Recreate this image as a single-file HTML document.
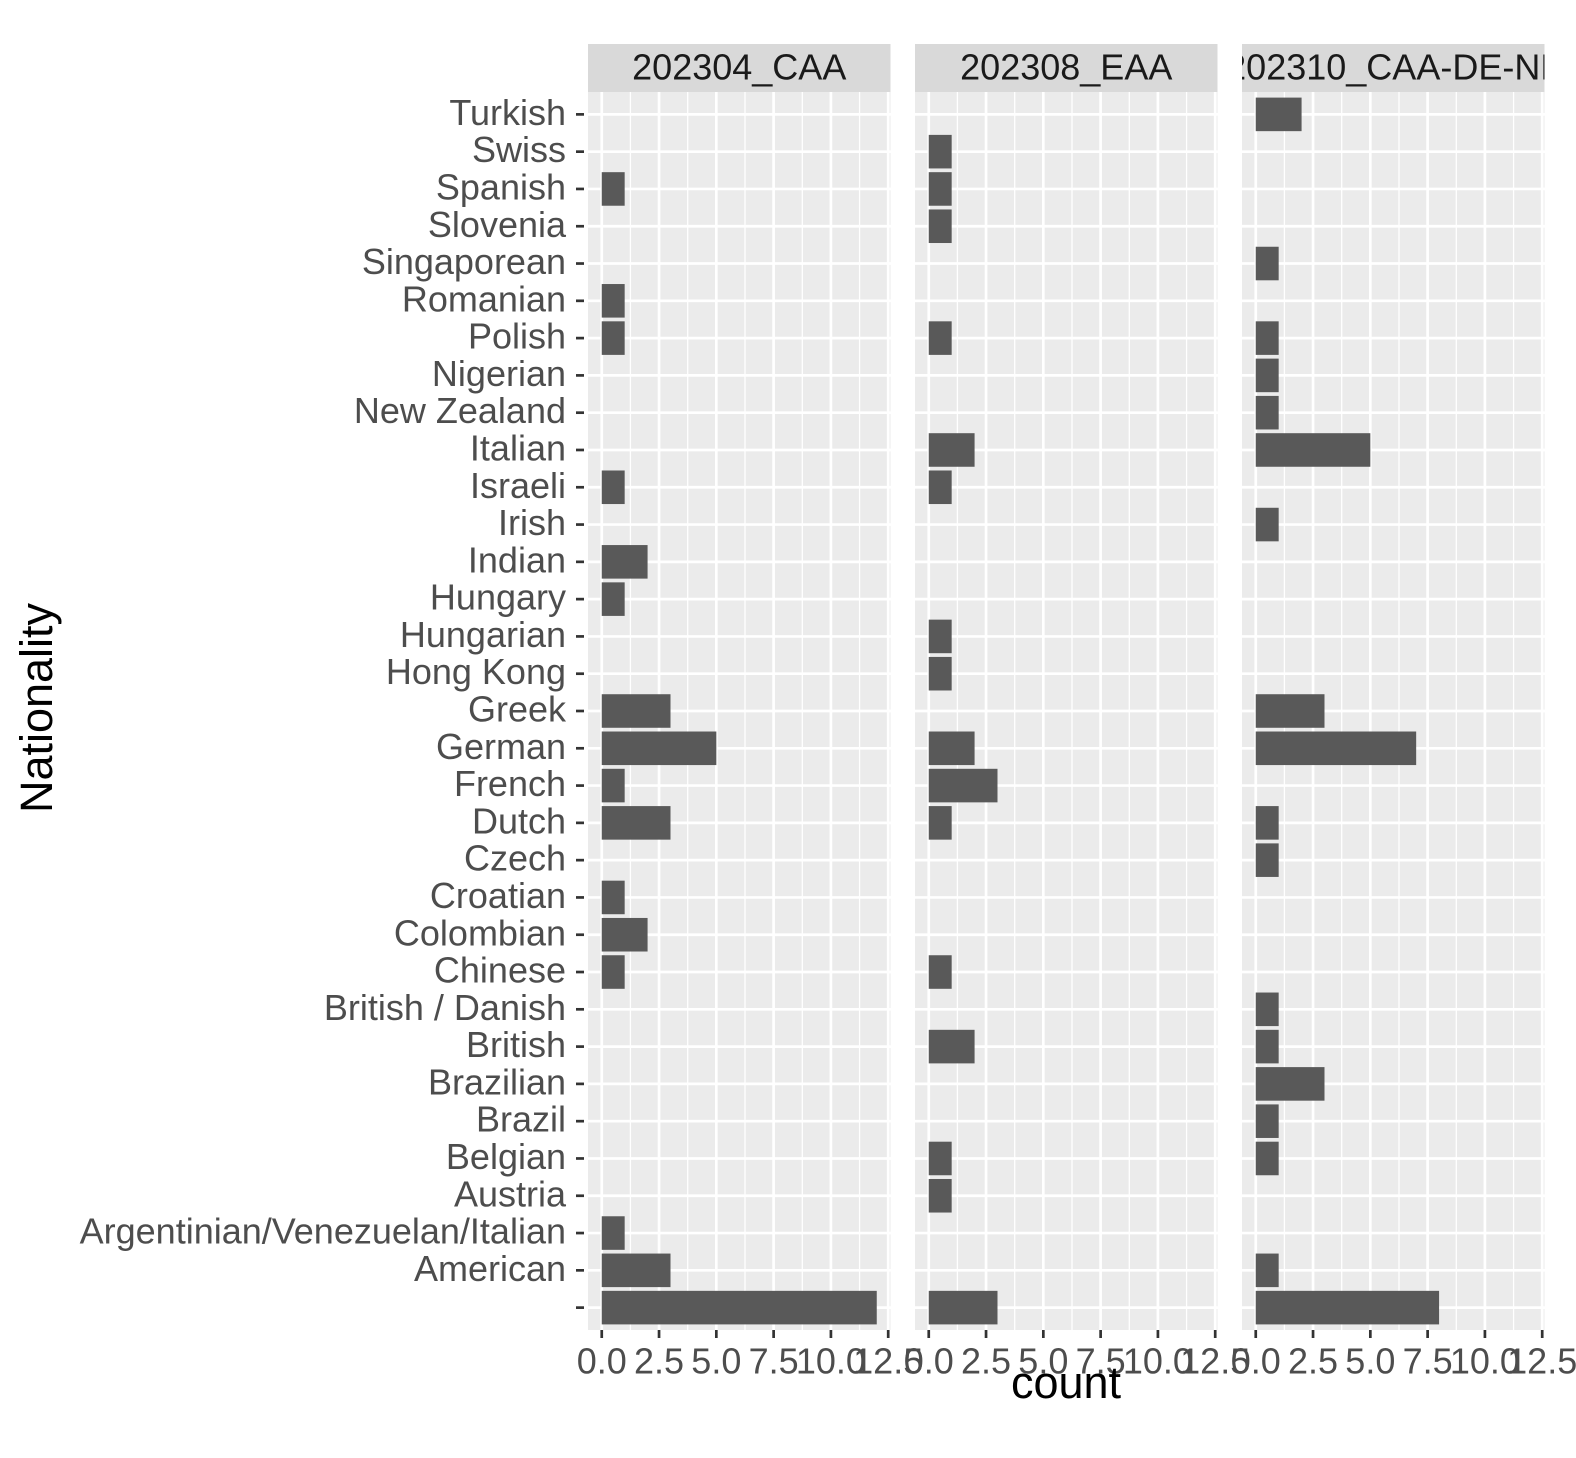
<!DOCTYPE html>
<html><head><meta charset="utf-8"><style>
html,body{margin:0;padding:0;background:#fff;}
svg{display:block;font-family:"Liberation Sans",Arial,sans-serif;}
</style></head><body>
<svg id="chart" width="1576" height="1458" viewBox="0 0 1576 1458" xmlns="http://www.w3.org/2000/svg"></svg>
<script>
const categories = ["Turkish","Swiss","Spanish","Slovenia","Singaporean","Romanian","Polish","Nigerian","New Zealand","Italian","Israeli","Irish","Indian","Hungary ","Hungarian","Hong Kong","Greek","German","French","Dutch","Czech","Croatian","Colombian","Chinese","British / Danish","British","Brazilian","Brazil","Belgian","Austria","Argentinian/Venezuelan/Italian","American",""];
const facets = ["202304_CAA","202308_EAA","202310_CAA-DE-NL"];
const values_202304_CAA = [0,0,1,0,0,1,1,0,0,0,1,0,2,1,0,0,3,5,1,3,0,1,2,1,0,0,0,0,0,0,1,3,12];
const values_202308_EAA = [0,1,1,1,0,0,1,0,0,2,1,0,0,0,1,1,0,2,3,1,0,0,0,1,0,2,0,0,1,1,0,0,3];
const values_202310_CAA_DE_NL = [2,0,0,0,1,0,1,1,1,5,0,1,0,0,0,0,3,7,0,1,1,0,0,0,1,1,3,1,1,0,0,1,8];
const seriesList = [values_202304_CAA, values_202308_EAA, values_202310_CAA_DE_NL];
const xTicks = [0,2.5,5,7.5,10,12.5];
const xTickLabels = ["0.0","2.5","5.0","7.5","10.0","12.5"];
const xMinor = [1.25,3.75,6.25,8.75,11.25];

const NS="http://www.w3.org/2000/svg";
const svg=document.getElementById('chart');
function mk(tag,attrs,parent){const e=document.createElementNS(NS,tag);for(const k in attrs)e.setAttribute(k,attrs[k]);(parent||svg).appendChild(e);return e;}

const panelLefts=[588,915,1242], panelW=302.5, panelTop=92, panelBot=1330, stripTop=44;
const xMin=-0.6, xMax=12.6;
function xs(p,v){return panelLefts[p]+(v-xMin)/(xMax-xMin)*panelW;}
const n=categories.length;
const step=(panelBot-panelTop)/(n-1+1.2);
function ys(i){return panelTop+step*0.6+i*step;}

const defs=mk('defs',{});
for(let p=0;p<3;p++){
  const cp=mk('clipPath',{id:'clip'+p},defs);
  mk('rect',{x:panelLefts[p],y:stripTop,width:panelW,height:panelTop-stripTop},cp);
  const strip=mk('rect',{x:panelLefts[p],y:stripTop,width:panelW,height:panelTop-stripTop,fill:'#D9D9D9'});
  
  
  const st=mk('text',{x:panelLefts[p]+panelW/2,y:stripTop+26,'font-size':36,fill:'#1A1A1A','text-anchor':'middle','dominant-baseline':'middle','clip-path':'url(#clip'+p+')'});
  st.textContent=facets[p];
  
  
  const bg=mk('rect',{x:panelLefts[p],y:panelTop,width:panelW,height:panelBot-panelTop,fill:'#EBEBEB'});
  
  
  xMinor.forEach(v=>{mk('line',{x1:xs(p,v),x2:xs(p,v),y1:panelTop,y2:panelBot,stroke:'#fff','stroke-width':1.3});});
  xTicks.forEach(v=>{mk('line',{x1:xs(p,v),x2:xs(p,v),y1:panelTop,y2:panelBot,stroke:'#fff','stroke-width':2.7});});
  categories.forEach((c,i)=>{mk('line',{x1:panelLefts[p],x2:panelLefts[p]+panelW,y1:ys(i),y2:ys(i),stroke:'#fff','stroke-width':2.7});});
  const vals=seriesList[p];
  vals.forEach((v,i)=>{
    if(v<=0)return;
    const bh=step*0.9;
    const b=mk('rect',{x:xs(p,0),y:ys(i)-bh/2,width:xs(p,v)-xs(p,0),height:bh,fill:'#595959'});
    
    
  });
  xTicks.forEach((v,k)=>{
    mk('line',{x1:xs(p,v),x2:xs(p,v),y1:panelBot,y2:panelBot+8,stroke:'#333','stroke-width':2.7});
    const t=mk('text',{x:xs(p,v),y:panelBot+34,'font-size':36,fill:'#4D4D4D','text-anchor':'middle','dominant-baseline':'middle'});
    t.textContent=xTickLabels[k];
    
    
  });
}
categories.forEach((c,i)=>{
  mk('line',{x1:576,x2:584,y1:ys(i),y2:ys(i),stroke:'#333','stroke-width':2.7});
  const t=mk('text',{x:566,y:ys(i)+1,'font-size':36,fill:'#4D4D4D','text-anchor':'end','dominant-baseline':'middle','xml:space':'preserve'});
  t.textContent=c;
  
  
});
const xt=mk('text',{x:1066,y:1386,'font-size':45,fill:'#000','text-anchor':'middle','dominant-baseline':'middle'});
xt.textContent='count';


const yt=mk('text',{x:40,y:708,'font-size':45,fill:'#000','text-anchor':'middle','dominant-baseline':'middle',transform:'rotate(-90 40 708)'});
yt.textContent='Nationality';


</script>
</body></html>
